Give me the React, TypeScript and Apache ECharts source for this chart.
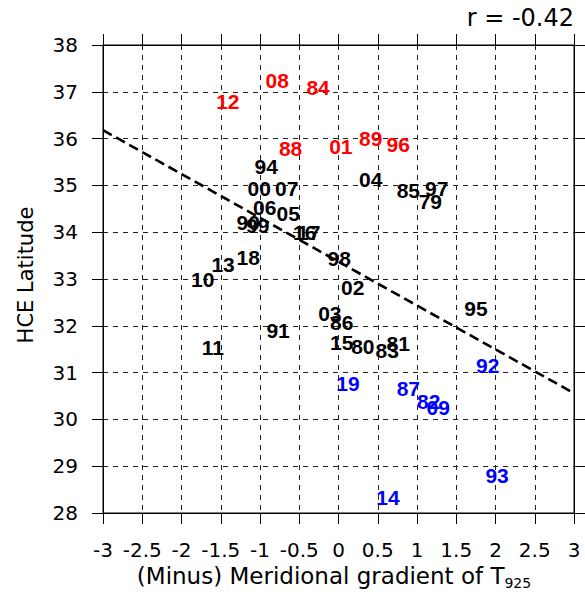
import React, { useEffect, useRef } from "react";
import * as echarts from "echarts";

// Years grouped by colour, with their x (minus meridional T925 gradient) and y (HCE latitude)
const redNames = ["12", "08", "84", "88", "01", "89", "96"];
const redX = [-1.41, -0.78, -0.26, -0.61, 0.03, 0.41, 0.76];
const redY = [36.8, 37.25, 37.1, 35.78, 35.84, 36.01, 35.87];

const blackNames = [
  "94", "00", "07", "04", "85", "97", "79", "06", "05", "90", "99", "16", "17", "18",
  "13", "10", "98", "02", "03", "86", "91", "11", "15", "80", "83", "81", "95",
];
const blackX = [
  -0.92, -1.01, -0.66, 0.41, 0.89, 1.25, 1.17, -0.94, -0.64, -1.15, -1.03, -0.43, -0.38, -1.15,
  -1.47, -1.73, 0.01, 0.18, -0.11, 0.04, -0.77, -1.6, 0.04, 0.31, 0.62, 0.76, 1.75,
];
const blackY = [
  35.41, 34.94, 34.94, 35.12, 34.9, 34.94, 34.65, 34.52, 34.39, 34.2, 34.15, 34.0, 34.0, 33.47,
  33.32, 33.0, 33.43, 32.81, 32.27, 32.06, 31.91, 31.53, 31.65, 31.55, 31.48, 31.63, 32.36,
];

const blueNames = ["92", "19", "87", "82", "09", "93", "14"];
const blueX = [1.9, 0.12, 0.89, 1.15, 1.27, 2.02, 0.63];
const blueY = [31.16, 30.76, 30.65, 30.39, 30.26, 28.81, 28.34];

// Least-squares fit line end points
const fitX = [-3, 3];
const fitY = [36.18, 30.56];

const corrText = "r = -0.42";

const AXIS_FONT = "DejaVu Sans";
const LABEL_FONT = "Liberation Sans";

function pts(names: string[], xs: number[], ys: number[]) {
  return names.map((n, i) => ({ name: n, value: [xs[i], ys[i]] }));
}

function yearSeries(names: string[], xs: number[], ys: number[], color: string) {
  return {
    type: "scatter",
    data: pts(names, xs, ys),
    symbolSize: 0,
    itemStyle: { color, opacity: 1 },
    label: {
      show: true,
      position: [0, 0],
      align: "center",
      verticalAlign: "middle",
      formatter: (p: any) => p.name,
      color,
      opacity: 1,
      textBorderWidth: 0,
      fontFamily: LABEL_FONT,
      fontWeight: "bold",
      fontSize: 21,
    },
    emphasis: { disabled: true },
    z: 3,
  };
}

export default function App() {
  const ref = useRef<HTMLDivElement>(null);

  useEffect(() => {
    if (!ref.current) return;
    const chart = echarts.init(ref.current, undefined, { renderer: "svg" });

    const dashed = { color: "#222", width: 1, type: [5, 5] as any };
    const tick = { show: true, inside: false, length: 11, lineStyle: { color: "#000", width: 1 } };

    chart.setOption({
      animation: false,
      grid: {
        left: 103,
        right: 11,
        top: 45,
        bottom: 87,
        show: true,
        borderColor: "#000",
        borderWidth: 1,
      },
      xAxis: [
        {
          type: "value",
          min: -3,
          max: 3,
          interval: 0.5,
          position: "bottom",
          axisLine: { show: true, onZero: false, lineStyle: { color: "#000" } },
          axisTick: tick,
          axisLabel: {
            color: "#000",
            fontFamily: AXIS_FONT,
            fontSize: 20,
            margin: 27,
          },
          splitLine: { show: true, lineStyle: dashed },
        },
        {
          type: "value",
          min: -3,
          max: 3,
          interval: 0.5,
          position: "top",
          axisLine: { show: true, onZero: false, lineStyle: { color: "#000" } },
          axisTick: tick,
          axisLabel: { show: false },
          splitLine: { show: false },
        },
      ],
      yAxis: [
        {
          type: "value",
          min: 28,
          max: 38,
          interval: 1,
          position: "left",
          axisLine: { show: true, onZero: false, lineStyle: { color: "#000" } },
          axisTick: tick,
          axisLabel: {
            color: "#000",
            fontFamily: AXIS_FONT,
            fontSize: 20,
            margin: 25,
          },
          splitLine: { show: true, lineStyle: dashed },
        },
        {
          type: "value",
          min: 28,
          max: 38,
          interval: 1,
          position: "right",
          axisLine: { show: true, onZero: false, lineStyle: { color: "#000" } },
          axisTick: tick,
          axisLabel: { show: false },
          splitLine: { show: false },
        },
      ],
      graphic: [
        {
          type: "text",
          right: 11,
          top: 6,
          style: {
            text: corrText,
            fill: "#000",
            font: `24px "${AXIS_FONT}"`,
          },
        },
        {
          type: "text",
          x: 334,
          y: 576,
          style: {
            text: "{m|(Minus) Meridional gradient of T}{s|925}",
            align: "center",
            verticalAlign: "middle",
            rich: {
              m: { fontFamily: AXIS_FONT, fontSize: 23, fill: "#000", lineHeight: 28 },
              s: {
                fontFamily: AXIS_FONT,
                fontSize: 14,
                fill: "#000",
                lineHeight: 14,
                verticalAlign: "bottom",
              },
            },
          },
        },
        {
          type: "text",
          x: 26,
          y: 275,
          rotation: Math.PI / 2,
          style: {
            text: "HCE Latitude",
            align: "center",
            verticalAlign: "middle",
            fill: "#000",
            font: `21px "${AXIS_FONT}"`,
          },
        },
      ],
      series: [
        {
          type: "line",
          data: fitX.map((x, i) => [x, fitY[i]]),
          showSymbol: false,
          symbol: "none",
          lineStyle: { color: "#000", width: 2.6, type: [10, 5] },
          emphasis: { disabled: true },
          z: 2,
        },
        yearSeries(redNames, redX, redY, "#ff0000"),
        yearSeries(blackNames, blackX, blackY, "#000000"),
        yearSeries(blueNames, blueX, blueY, "#0000ff"),
      ],
    });

    return () => chart.dispose();
  }, []);

  return (
    <div
      ref={ref}
      style={{ position: "fixed", left: 0, top: 0, width: 585, height: 600, background: "#fff" }}
    />
  );
}
